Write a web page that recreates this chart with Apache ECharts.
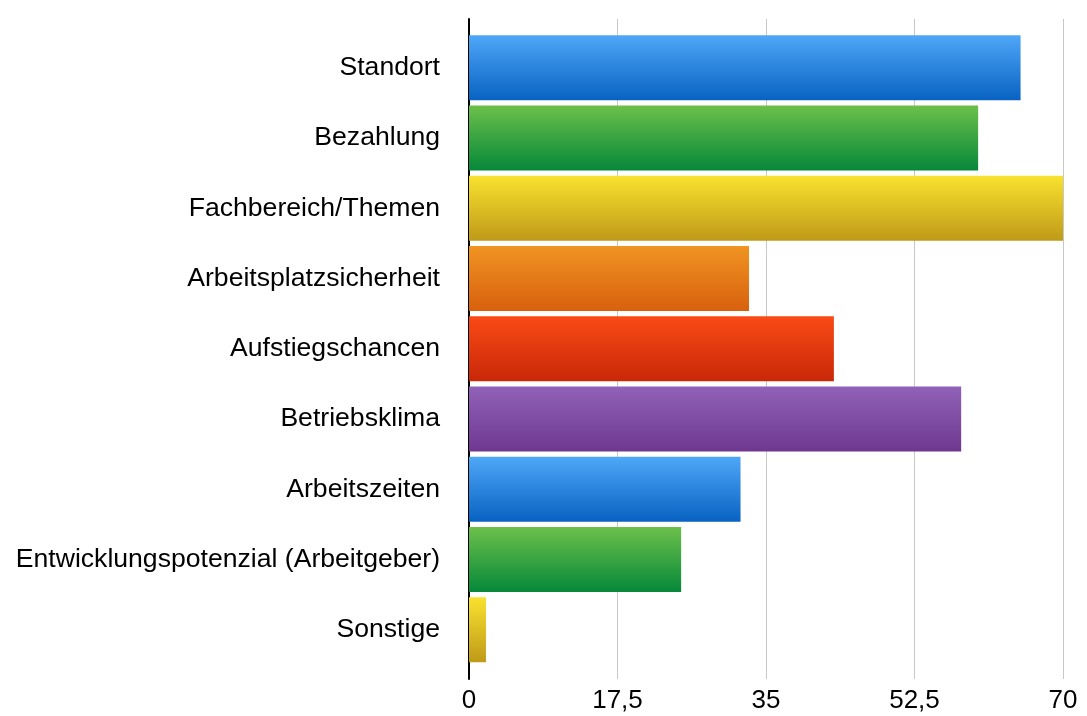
<!DOCTYPE html>
<html>
<head>
<meta charset="utf-8">
<script src="https://cdn.jsdelivr.net/npm/echarts@6/dist/echarts.min.js"></script>
<style>
  html, body { margin: 0; padding: 0; background: #fff; }
  #chart { width: 1087px; height: 716px; }
</style>
</head>
<body>
<div id="chart"></div>
<script>
var categories = [
  "Standort",
  "Bezahlung",
  "Fachbereich/Themen",
  "Arbeitsplatzsicherheit",
  "Aufstiegschancen",
  "Betriebsklima",
  "Arbeitszeiten",
  "Entwicklungspotenzial (Arbeitgeber)",
  "Sonstige"
];
var values = [65, 60, 70, 33, 43, 58, 32, 25, 2];
var xTicks = [0, 17.5, 35, 52.5, 70];

// gradient top / bottom colours, cycled like the original
var topColors = ["#4fa7f7", "#6cc04a", "#f9e22f", "#f09422", "#fa4a16", "#9062b8"];
var bottomColors = ["#0862c2", "#06883a", "#bf9a18", "#d8600e", "#c82808", "#6f3890"];

var chart = echarts.init(document.getElementById("chart"));

var barData = [];
for (var i = 0; i < values.length; i++) {
  var c = i % topColors.length;
  barData.push({
    value: values[i],
    itemStyle: {
      color: new echarts.graphic.LinearGradient(0, 0, 0, 1, [
        { offset: 0, color: topColors[c] },
        { offset: 1, color: bottomColors[c] }
      ])
    }
  });
}

var font = "'Liberation Sans', Arial, Helvetica, sans-serif";

chart.setOption({
  animation: false,
  grid: [
    // frame grid: gridlines + y axis line
    { left: 469, right: 24, top: 19, height: 660 },
    // bars grid
    { left: 469, right: 24, top: 32.6, height: 632.2 }
  ],
  xAxis: [
    {
      gridIndex: 0,
      type: "value",
      min: 0,
      max: 70,
      interval: 17.5,
      axisLine: { show: false },
      axisTick: { show: false },
      splitLine: { show: true, lineStyle: { color: "#c8c8c8", width: 1 } },
      axisLabel: {
        color: "#000",
        fontSize: 26,
        fontFamily: font,
        margin: 9,
        formatter: function (v) {
          return xTicks.indexOf(v) >= 0 ? String(v).replace(".", ",") : "";
        }
      }
    },
    {
      gridIndex: 1,
      type: "value",
      min: 0,
      max: 70,
      show: false
    }
  ],
  yAxis: [
    {
      gridIndex: 0,
      type: "value",
      min: 0,
      max: 1,
      axisLine: { show: true, lineStyle: { color: "#000", width: 2 } },
      axisTick: { show: false },
      axisLabel: { show: false },
      splitLine: { show: false }
    },
    {
      gridIndex: 1,
      type: "category",
      inverse: true,
      data: categories,
      axisLine: { show: false },
      axisTick: { show: false },
      axisLabel: {
        color: "#000",
        fontSize: 26.6,
        fontFamily: font,
        margin: 29
      }
    }
  ],
  series: [
    {
      type: "bar",
      xAxisIndex: 1,
      yAxisIndex: 1,
      data: barData,
      barCategoryGap: "7.4%"
    }
  ]
});
</script>
</body>
</html>
